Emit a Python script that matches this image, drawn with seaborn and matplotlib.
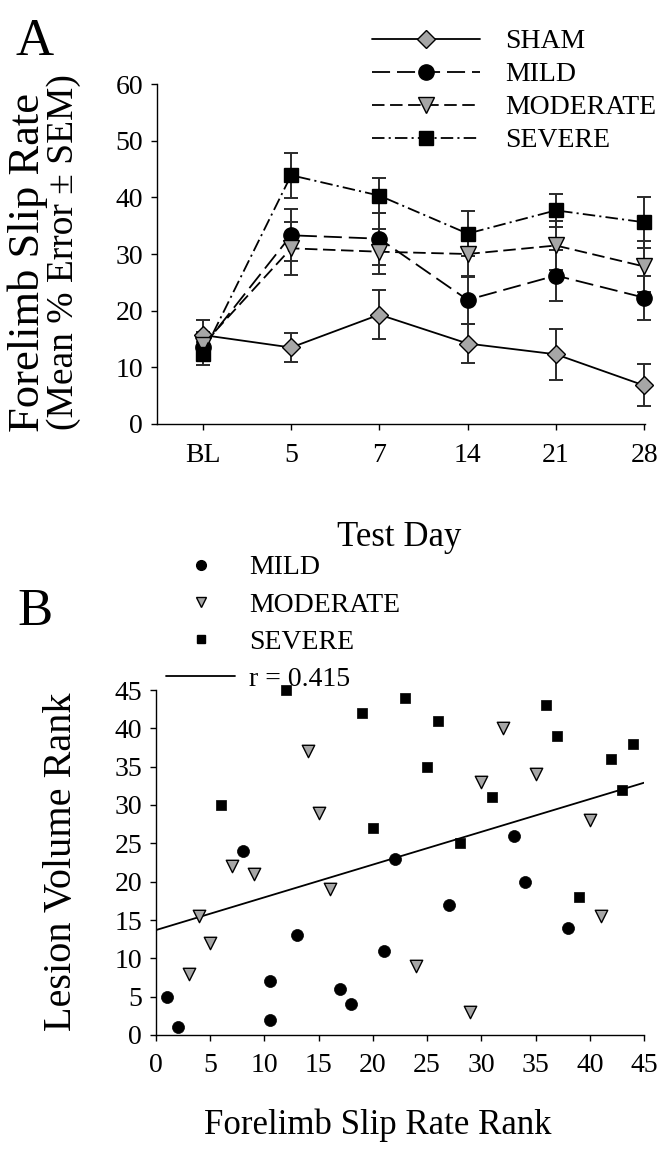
import numpy as np
import pandas as pd
import seaborn as sns
import matplotlib.pyplot as plt
from matplotlib.lines import Line2D

# ------------------------------- data ------------------------------- #
# panel A: forelimb slip rate (mean % error +- SEM) per test day
test_days = ["BL", "5", "7", "14", "21", "28"]
sham_mean = [15.7, 13.5, 19.3, 14.2, 12.3, 6.8]
sham_sem = [2.7, 2.6, 4.3, 3.5, 4.5, 3.7]
mild_mean = [13.6, 33.3, 32.7, 21.9, 26.2, 22.3]
mild_sem = [2.2, 4.6, 4.6, 4.3, 4.5, 3.9]
moderate_mean = [14.0, 31.0, 30.4, 30.0, 31.5, 27.8]
moderate_sem = [2.2, 4.7, 4.0, 4.0, 4.3, 4.5]
severe_mean = [12.4, 43.9, 40.3, 33.6, 37.7, 35.6]
severe_sem = [2.0, 4.0, 3.1, 3.9, 2.9, 4.5]

# panel B: slip rate rank vs lesion volume rank
mild_slip_rank = [1, 2, 8, 10.5, 10.5, 13, 17, 18, 21, 22, 27, 33, 34, 38]
mild_lesion_rank = [5, 1, 24, 7, 2, 13, 6, 4, 11, 23, 17, 26, 20, 14]
moderate_slip_rank = [3, 4, 5, 7, 9, 14, 15, 16, 24, 29, 30, 32, 35, 40, 41]
moderate_lesion_rank = [8, 15.5, 12, 22, 21, 37, 29, 19, 9, 3, 33, 40, 34, 28, 15.5]
severe_slip_rank = [6, 12, 19, 20, 23, 25, 26, 28, 31, 36, 37, 39, 42, 43, 44]
severe_lesion_rank = [30, 45, 42, 27, 44, 35, 41, 25, 31, 43, 39, 18, 36, 32, 38]
r_label = "r = 0.415"

# ------------------------------ settings ------------------------------ #
sns.set_style("ticks")
plt.rcParams["font.family"] = ["Liberation Serif", "DejaVu Serif"]
plt.rcParams["text.color"] = "black"
plt.rcParams["xtick.color"] = "black"
plt.rcParams["ytick.color"] = "black"
plt.rcParams["axes.edgecolor"] = "black"
plt.rcParams["lines.scale_dashes"] = False
plt.rcParams["axes.linewidth"] = 1.0
plt.rcParams["xtick.major.width"] = 1.0
plt.rcParams["ytick.major.width"] = 1.0
plt.rcParams["xtick.major.size"] = 4
plt.rcParams["ytick.major.size"] = 4
plt.rcParams["xtick.direction"] = "out"
plt.rcParams["ytick.direction"] = "out"

tick_fs = 20
legend_fs = 20
gray_fill = "#a6a6a6"
err_color = "#2a2a2a"

groups_a = {
    "SHAM": dict(mean=sham_mean, sem=sham_sem, marker="D", ms=9.5, mfc=gray_fill, ls="-"),
    "MILD": dict(mean=mild_mean, sem=mild_sem, marker="o", ms=11, mfc="black", ls=(0, (13, 5))),
    "MODERATE": dict(mean=moderate_mean, sem=moderate_sem, marker="v", ms=11, mfc=gray_fill, ls=(0, (9, 4))),
    "SEVERE": dict(mean=severe_mean, sem=severe_sem, marker="s", ms=10, mfc="black", ls=(0, (9, 3, 1.5, 3))),
}

fig = plt.figure(figsize=(6.66, 11.49), dpi=100)
W, H = 666, 1149

# ------------------------------ panel A ------------------------------ #
axA = fig.add_axes([157 / W, 1 - 424 / H, (645 - 157) / W, (424 - 84) / H])
x_idx = np.arange(len(test_days))

for name, g in groups_a.items():
    axA.errorbar(x_idx, g["mean"], yerr=g["sem"], fmt="none", ecolor=err_color,
                 elinewidth=1.4, capsize=5, capthick=1.4, zorder=2, clip_on=False)
for name, g in groups_a.items():
    df = pd.DataFrame({"day": x_idx, "value": g["mean"]})
    sns.lineplot(data=df, x="day", y="value", ax=axA, color="black", linewidth=1.3,
                 linestyle=g["ls"], marker=g["marker"], markersize=g["ms"],
                 markerfacecolor=g["mfc"], markeredgecolor="black", markeredgewidth=1.0,
                 zorder=3, clip_on=False)

axA.set_xlim(-0.52, 5.01)
axA.set_ylim(0, 60)
axA.set_yticks(range(0, 61, 10))
axA.set_xticks(x_idx)
axA.set_xticklabels(test_days)
axA.set_xlabel("")
axA.set_ylabel("")
axA.tick_params(axis="y", labelsize=tick_fs, pad=6)
axA.tick_params(axis="x", labelsize=tick_fs, pad=10)
sns.despine(ax=axA)

handles_a = [Line2D([], [], color="black", linewidth=1.3, linestyle=g["ls"], marker=g["marker"],
                    markersize=g["ms"], markerfacecolor=g["mfc"], markeredgecolor="black")
             for g in groups_a.values()]
fig.legend(handles_a, list(groups_a.keys()), loc="upper left",
           bbox_to_anchor=(372 / W, 1 - 29 / H), frameon=False, fontsize=legend_fs,
           handlelength=3.9, handletextpad=0.9, labelspacing=0.27, borderpad=0, borderaxespad=0)

fig.text(35 / W, 1 - 42 / H, "A", fontsize=38, ha="center", va="center")
fig.text(28 / W, 1 - 262 / H, "Forelimb Slip Rate", fontsize=32, rotation=90, ha="center", va="center")
fig.text(64 / W, 1 - 252 / H, "(Mean % Error \u00b1 SEM)", fontsize=27, rotation=90, ha="center", va="center")
fig.text(399 / W, 1 - 538 / H, "Test Day", fontsize=25, ha="center", va="center")

# ------------------------------ panel B ------------------------------ #
axB = fig.add_axes([156 / W, 1 - 1035 / H, (644 - 156) / W, (1035 - 690) / H])
axB.set_xlim(0, 45)
axB.set_ylim(0, 45)

sns.scatterplot(x=mild_slip_rank, y=mild_lesion_rank, ax=axB, marker="o", s=75,
                color="black", edgecolor="black", linewidth=0.5, zorder=3, clip_on=False)
sns.scatterplot(x=moderate_slip_rank, y=moderate_lesion_rank, ax=axB, marker="v", s=80,
                color=gray_fill, edgecolor="black", linewidth=1.0, zorder=3, clip_on=False)
sns.scatterplot(x=severe_slip_rank, y=severe_lesion_rank, ax=axB, marker="s", s=60,
                color="black", edgecolor="black", linewidth=0.5, zorder=3, clip_on=False)

all_x = mild_slip_rank + moderate_slip_rank + severe_slip_rank
all_y = mild_lesion_rank + moderate_lesion_rank + severe_lesion_rank
sns.regplot(x=all_x, y=all_y, ax=axB, scatter=False, ci=None, truncate=False,
            line_kws=dict(color="black", linewidth=1.3, zorder=2))

axB.set_xlim(0, 45)
axB.set_ylim(0, 45)
axB.set_xticks(range(0, 46, 5))
axB.set_yticks(range(0, 46, 5))
axB.tick_params(axis="y", labelsize=tick_fs, pad=6)
axB.tick_params(axis="x", labelsize=tick_fs, pad=9)
sns.despine(ax=axB)

handles_b = [
    Line2D([], [], linestyle="none", marker="o", markersize=7, color="black"),
    Line2D([], [], linestyle="none", marker="v", markersize=7, markerfacecolor=gray_fill, markeredgecolor="black"),
    Line2D([], [], linestyle="none", marker="s", markersize=6, color="black"),
    Line2D([], [], color="black", linewidth=1.3),
]
fig.legend(handles_b, ["MILD", "MODERATE", "SEVERE", r_label], loc="upper left",
           bbox_to_anchor=(166 / W, 1 - 555 / H), frameon=False, fontsize=legend_fs,
           handlelength=2.5, handletextpad=0.5, labelspacing=0.42, borderpad=0, borderaxespad=0)

fig.text(35 / W, 1 - 612 / H, "B", fontsize=38, ha="center", va="center")
fig.text(62 / W, 1 - 862 / H, "Lesion Volume Rank", fontsize=29, rotation=90, ha="center", va="center")
fig.text(378 / W, 1 - 1125 / H, "Forelimb Slip Rate Rank", fontsize=25, ha="center", va="center")

fig.savefig("out.png", dpi=100)
